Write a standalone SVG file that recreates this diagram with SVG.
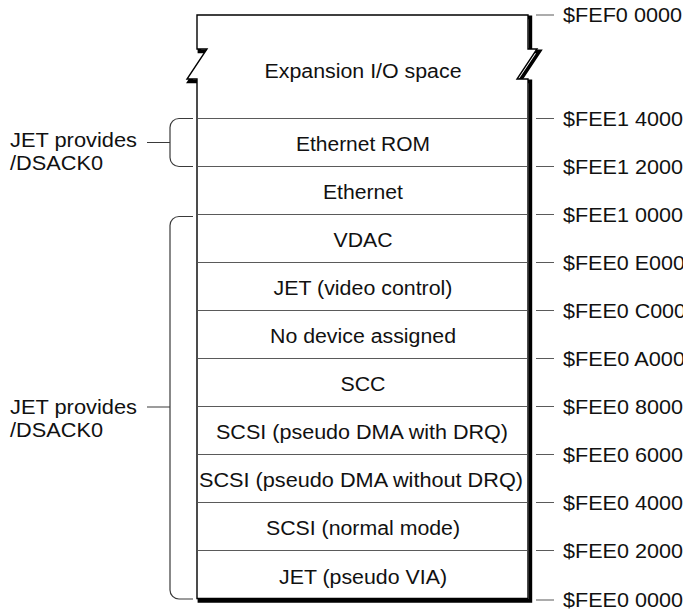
<svg xmlns="http://www.w3.org/2000/svg" width="683" height="613" viewBox="0 0 683 613">
  <style>
    text { font-family: "Liberation Sans", Arial, Helvetica, sans-serif; font-size: 19.5px; fill: #111; }
    .row { text-anchor: middle; }
    .addr { text-anchor: start; }
    .div { stroke: #5a5a5a; stroke-width: 1.2; fill: none; }
    .tick { stroke: #5a5a5a; stroke-width: 1.2; fill: none; }
    .brace { stroke: #3a3a3a; stroke-width: 1.2; fill: none; }
    .outline { fill: #fff; stroke: #000; stroke-width: 1.4; stroke-linejoin: miter; }
    .shadow { fill: none; stroke: #000; stroke-width: 3.6; stroke-linejoin: miter; }
  </style>
  <defs>
    <!-- outline of the memory map column, with break marks on both sides -->
    <path id="col" d="M197,15 H528 V49 H537 L517,79 H528 V598.5 H197 V79 H187 L207,49 H197 Z"/>
  </defs>

  <rect width="683" height="613" fill="#fff"/>

  <!-- drop shadow, then the column on top -->
  <use href="#col" class="shadow" transform="translate(2.4,2.4)"/>
  <use href="#col" class="outline"/>

  <!-- row dividers -->
  <g id="dividers">
    <path class="div" d="M197.7,118.5 H527.3 M197.7,166.5 H527.3 M197.7,214.5 H527.3 M197.7,262.5 H527.3 M197.7,310.5 H527.3 M197.7,358.5 H527.3 M197.7,406.5 H527.3 M197.7,454.5 H527.3 M197.7,502.5 H527.3 M197.7,550.5 H527.3"/>
  </g>

  <!-- address ranges -->
  <g id="expansion"><text class="row" x="363" y="77.5" textLength="197" lengthAdjust="spacingAndGlyphs">Expansion I/O space</text></g>
  <g id="ethernet-rom"><text class="row" x="363" y="150.5" textLength="134" lengthAdjust="spacingAndGlyphs">Ethernet ROM</text></g>
  <g id="ethernet"><text class="row" x="363" y="198.5" textLength="80" lengthAdjust="spacingAndGlyphs">Ethernet</text></g>
  <g id="vdac"><text class="row" x="363" y="246.5" textLength="59" lengthAdjust="spacingAndGlyphs">VDAC</text></g>
  <g id="jet-video"><text class="row" x="363" y="294.5" textLength="179" lengthAdjust="spacingAndGlyphs">JET (video control)</text></g>
  <g id="no-device"><text class="row" x="363" y="342.5" textLength="186" lengthAdjust="spacingAndGlyphs">No device assigned</text></g>
  <g id="scc"><text class="row" x="363" y="390.5" textLength="45" lengthAdjust="spacingAndGlyphs">SCC</text></g>
  <g id="scsi-drq"><text class="row" x="362" y="438.5" textLength="292" lengthAdjust="spacingAndGlyphs">SCSI (pseudo DMA with DRQ)</text></g>
  <g id="scsi-nodrq"><text class="row" x="361" y="486.5" textLength="324" lengthAdjust="spacingAndGlyphs">SCSI (pseudo DMA without DRQ)</text></g>
  <g id="scsi-normal"><text class="row" x="363" y="535" textLength="194" lengthAdjust="spacingAndGlyphs">SCSI (normal mode)</text></g>
  <g id="jet-via"><text class="row" x="363" y="583.5" textLength="168" lengthAdjust="spacingAndGlyphs">JET (pseudo VIA)</text></g>

  <!-- boundary ticks and bracket callouts -->
  <g id="connectors">
    <path class="tick" d="M536,15 H554 M536,118.5 H554 M536,166.5 H554 M536,214.5 H554 M536,262.5 H554 M536,310.5 H554 M536,358.5 H554 M536,406.5 H554 M536,454.5 H554 M536,502.5 H554 M536,550.5 H554 M536,600 H554"/>
    <path class="brace" d="M193,118.5 H179 A9,9 0 0 0 170,127.5 V157.5 A9,9 0 0 0 179,166.5 H193 M147,142.5 H170"/>
    <path class="brace" d="M193,216.5 H179 A9,9 0 0 0 170,225.5 V590 A9,9 0 0 0 179,599 H193 M147,407 H170"/>
  </g>

  <!-- address labels -->
  <g id="addresses">
    <text class="addr" x="563" y="22" textLength="119" lengthAdjust="spacingAndGlyphs">$FEF0 0000</text>
    <text class="addr" x="563" y="125.5" textLength="120" lengthAdjust="spacingAndGlyphs">$FEE1 4000</text>
    <text class="addr" x="563" y="173.5" textLength="120" lengthAdjust="spacingAndGlyphs">$FEE1 2000</text>
    <text class="addr" x="563" y="221.5" textLength="120" lengthAdjust="spacingAndGlyphs">$FEE1 0000</text>
    <text class="addr" x="563" y="269.5" textLength="122" lengthAdjust="spacingAndGlyphs">$FEE0 E000</text>
    <text class="addr" x="563" y="317.5" textLength="123" lengthAdjust="spacingAndGlyphs">$FEE0 C000</text>
    <text class="addr" x="563" y="365.5" textLength="122" lengthAdjust="spacingAndGlyphs">$FEE0 A000</text>
    <text class="addr" x="563" y="413.5" textLength="120" lengthAdjust="spacingAndGlyphs">$FEE0 8000</text>
    <text class="addr" x="563" y="461.5" textLength="120" lengthAdjust="spacingAndGlyphs">$FEE0 6000</text>
    <text class="addr" x="563" y="509.5" textLength="120" lengthAdjust="spacingAndGlyphs">$FEE0 4000</text>
    <text class="addr" x="563" y="557.5" textLength="120" lengthAdjust="spacingAndGlyphs">$FEE0 2000</text>
    <text class="addr" x="563" y="607" textLength="120" lengthAdjust="spacingAndGlyphs">$FEE0 0000</text>
  </g>

  <!-- bracket captions -->
  <g id="dsack-upper">
    <text x="10" y="147" textLength="127" lengthAdjust="spacingAndGlyphs">JET provides</text>
    <text x="10" y="170" textLength="93" lengthAdjust="spacingAndGlyphs">/DSACK0</text>
  </g>
  <g id="dsack-lower">
    <text x="10" y="414" textLength="127" lengthAdjust="spacingAndGlyphs">JET provides</text>
    <text x="10" y="437" textLength="93" lengthAdjust="spacingAndGlyphs">/DSACK0</text>
  </g>
</svg>
